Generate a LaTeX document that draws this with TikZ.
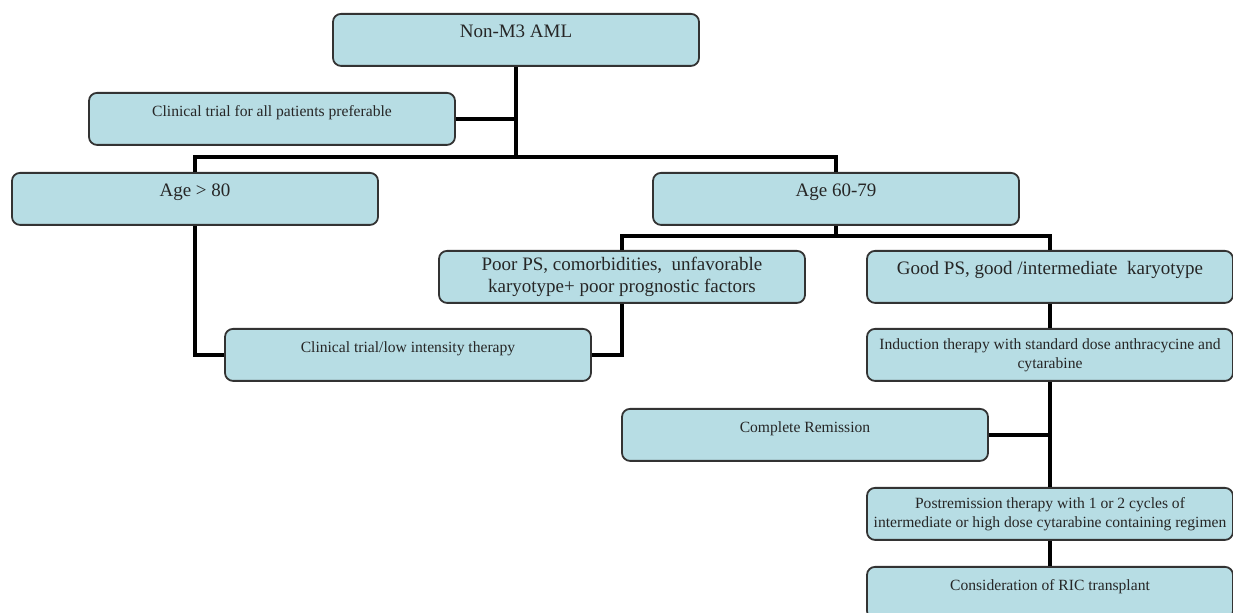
\documentclass[tikz,border=0pt]{standalone}
\usepackage{fontspec}
\setmainfont{Liberation Serif}
\newcommand{\bigtxt}{\fontsize{9.5}{11.2}\selectfont}
\newcommand{\smalltxt}{\fontsize{7.8}{9.4}\selectfont}
\definecolor{boxblue}{RGB}{183,221,228}
\usetikzlibrary{positioning,calc}
\tikzset{
	box/.style={
		rectangle,
		rounded corners=4pt,
		draw=black!80,
		line width=0.9pt,
		fill=boxblue,
		text=black!85,
		align=center,
		anchor=north,
		inner xsep=1pt,
		inner ysep=3pt,
		minimum height=26pt,
		minimum width=183pt,
	},
	onerow/.style={
		box,
		text height=9pt,
		text depth=11pt,
	},
	link/.style={
		line width=2.2pt,
		black,
	}
}

\begin{document}
\begin{tikzpicture}[x=0.5pt,y=-0.5pt]
\useasboundingbox (0,0) rectangle (1233,613);

\node[onerow,font=\bigtxt] (aml) at (516,13) {Non-M3 AML};
\node[onerow,font=\smalltxt] (trial) at (272,92) {Clinical trial for all patients preferable};
\node[onerow,font=\bigtxt] (old) at (195,172) {Age > 80};
\node[onerow,font=\bigtxt] (mid) at (836,172) {Age 60-79};
\node[box,font=\bigtxt] (poor) at (622,250) {Poor PS, comorbidities,\ \ unfavorable\\karyotype+ poor prognostic factors};
\node[onerow,font=\bigtxt] (good) at (1050,250) {Good PS, good /intermediate\ \ karyotype};
\node[onerow,font=\smalltxt] (low) at (408,328) {Clinical trial/low intensity therapy};
\node[box,font=\smalltxt] (induct) at (1050,328) {Induction therapy with standard dose anthracycine and\\cytarabine};
\node[onerow,font=\smalltxt] (cr) at (805,408) {Complete Remission};
\node[box,font=\smalltxt] (post) at (1050,487) {Postremission therapy with 1 or 2 cycles of\\intermediate or high dose cytarabine containing regimen};
\node[onerow,font=\smalltxt] (ric) at (1050,566) {Consideration of RIC transplant};

\coordinate (topbus) at (516,157);
\coordinate (midbus) at (836,236);

\draw[link] (aml.south) -- (topbus);
\draw[link] (trial.east) -- (trial.east -| aml.south);
\draw[link] (old.north) |- (topbus) -| (mid.north);

\draw[link] (mid.south) -- (midbus);
\draw[link] (poor.north) |- (midbus) -| (good.north);

\draw[link] (old.south) |- (low.west);
\draw[link] (poor.south) |- (low.east);

\draw[link] (good.south) -- (induct.north);
\draw[link] (induct.south) -- (post.north);
\draw[link] (cr.east) -- (cr.east -| induct.south);
\draw[link] (post.south) -- (ric.north);

\end{tikzpicture}
\end{document}
